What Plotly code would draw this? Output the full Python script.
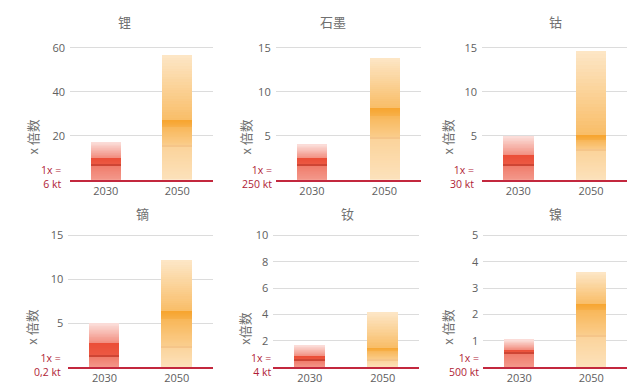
import plotly.graph_objects as go

# ---------------- data ----------------
materials = ["锂", "石墨", "钴", "镝", "钕", "镍"]
units = ["6 kt", "250 kt", "30 kt", "0,2 kt", "4 kt", "500 kt"]
y_titles = ["x 倍数", "x 倍数", "x 倍数", "x 倍数", "x倍数", "x 倍数"]
tick_values = [[20, 40, 60], [5, 10, 15], [5, 10, 15], [5, 10, 15],
               [2, 4, 6, 8, 10], [1, 2, 3, 4, 5]]
years = ["2030", "2050"]

max_2030 = [17.3, 4.05, 5.0, 5.0, 1.7, 1.05]
peak_2030 = [10.5, 2.55, 2.9, 2.85, 0.9, 0.7]
line_2030 = [7.0, 1.75, 1.75, 1.3, 0.55, 0.55]

max_2050 = [57.0, 13.9, 14.7, 12.2, 4.2, 3.63]
peak_2050 = [27.2, 8.25, 5.1, 6.4, 1.55, 2.43]
bandlow_2050 = [24.6, 7.4, 4.6, 5.6, 1.3, 2.2]
line_2050 = [15.5, 4.8, 3.4, 2.4, 0.6, 1.2]

# ---------------- layout geometry (pixels) ----------------
W, H = 640, 389
x_px = [(70, 213), (275.7, 420.7), (482, 627.3), (68.3, 213), (273.3, 419.3), (483.3, 627.3)]
rows = [dict(base=177.7, tick=44.3, top=40.0), dict(base=367.0, tick=233.7, top=229.0)]
title_px = [(124, 18), (333, 18), (555, 18), (142, 212), (347, 212), (555, 212)]
ytitle_px = [(33, 135), (246, 135), (448, 135), (32, 327), (245, 328), (448, 327)]
unit_px = [(63, 174.5), (274, 174.5), (476, 174.5), (63, 364.5), (273, 364.5), (481, 364.5)]

RED = (234, 72, 48)
RED_LINE = (200, 48, 30)
ORANGE = (246, 158, 32)
ORANGE_LINE = (236, 150, 40)


def blend(c, a):
    r = [round(255 * (1 - a) + ci * a) for ci in c]
    return f"rgb({r[0]},{r[1]},{r[2]})"


def segments(regions, k=24):
    """regions: list of (lo, hi, alpha_lo, alpha_hi)"""
    bases, heights, alphas = [], [], []
    for lo, hi, a0, a1 in regions:
        if hi <= lo:
            continue
        step = (hi - lo) / k
        for i in range(k):
            b = lo + i * step
            t = (i + 0.5) / k
            bases.append(b)
            heights.append(step * 1.04)
            alphas.append(a0 + (a1 - a0) * t)
    return bases, heights, alphas


fig = go.Figure()
annotations = []

for i, m in enumerate(materials):
    row = rows[i // 3]
    ax = "" if i == 0 else str(i + 1)
    xref, yref = "x" + ax, "y" + ax
    top_tick = tick_values[i][-1]
    rng_top = top_tick * (row["base"] - row["top"]) / (row["base"] - row["tick"])
    px_per_unit = (row["base"] - row["tick"]) / top_tick
    lh = 1.3 / px_per_unit

    # 2030 bar (red)
    reg30 = [(0, line_2030[i], 0.55, 0.72),
             (line_2030[i], peak_2030[i], 0.9, 0.97),
             (peak_2030[i], max_2030[i], 0.62, 0.18)]
    b, h, a = segments(reg30)
    fig.add_trace(go.Bar(x=[years[0]] * len(b), y=h, base=b, width=0.42,
                         marker=dict(color=[blend(RED, v) for v in a], line=dict(width=0)),
                         xaxis=xref, yaxis=yref, showlegend=False, hoverinfo="skip"))
    fig.add_trace(go.Bar(x=[years[0]], y=[lh], base=[line_2030[i] - lh / 2], width=0.42,
                         marker=dict(color=blend(RED_LINE, 0.9), line=dict(width=0)),
                         xaxis=xref, yaxis=yref, showlegend=False, hoverinfo="skip"))

    # 2050 bar (orange)
    reg50 = [(0, line_2050[i], 0.3, 0.45),
             (line_2050[i], bandlow_2050[i], 0.5, 0.75),
             (bandlow_2050[i], peak_2050[i], 0.82, 0.93),
             (peak_2050[i], max_2050[i], 0.68, 0.25)]
    b, h, a = segments(reg50)
    fig.add_trace(go.Bar(x=[years[1]] * len(b), y=h, base=b, width=0.42,
                         marker=dict(color=[blend(ORANGE, v) for v in a], line=dict(width=0)),
                         xaxis=xref, yaxis=yref, showlegend=False, hoverinfo="skip"))
    fig.add_trace(go.Bar(x=[years[1]], y=[lh], base=[line_2050[i] - lh / 2], width=0.42,
                         marker=dict(color=blend(ORANGE_LINE, 0.55), line=dict(width=0)),
                         xaxis=xref, yaxis=yref, showlegend=False, hoverinfo="skip"))

    x0, x1 = x_px[i]
    fig.update_layout(**{
        "xaxis" + ax: dict(domain=[x0 / W, x1 / W], type="category",
                           categoryorder="array", categoryarray=years,
                           showline=True, linecolor="#c3283e", linewidth=2,
                           showgrid=False, ticks="", anchor=yref,
                           tickfont=dict(family="Open Sans, sans-serif", size=11, color="#606060"),
                           fixedrange=True),
        "yaxis" + ax: dict(domain=[1 - row["base"] / H, 1 - row["top"] / H],
                           range=[0, rng_top], tickvals=tick_values[i],
                           showgrid=True, gridcolor="#dcdcdc", gridwidth=1,
                           zeroline=False, showline=False, anchor=xref,
                           ticklabelstandoff=4,
                           tickfont=dict(family="Open Sans, sans-serif", size=11, color="#606060"),
                           fixedrange=True),
    })

    tx, ty = title_px[i]
    annotations.append(dict(text=m, x=tx / W, y=1 - ty / H, xref="paper", yref="paper",
                            showarrow=False, xanchor="center", yanchor="middle",
                            font=dict(family="Noto Sans CJK SC", size=13, color="#707070")))
    yx, yy = ytitle_px[i]
    annotations.append(dict(text=y_titles[i], x=yx / W, y=1 - yy / H, xref="paper", yref="paper",
                            showarrow=False, xanchor="center", yanchor="middle", textangle=-90,
                            font=dict(family="Noto Sans CJK SC", size=13, color="#707070")))
    ux, uy = unit_px[i]
    annotations.append(dict(text="1x =<br>" + units[i], x=ux / W, y=1 - uy / H,
                            xref="paper", yref="paper", showarrow=False,
                            xanchor="right", yanchor="middle", align="right",
                            font=dict(family="Open Sans, sans-serif", size=10.5, color="#b01c36")))

fig.update_layout(width=W, height=H, margin=dict(l=0, r=0, t=0, b=0),
                  paper_bgcolor="white", plot_bgcolor="white",
                  barmode="overlay", bargap=0, annotations=annotations,
                  showlegend=False)

fig.write_html("out.html", config={"displayModeBar": False},
               post_script="document.body.style.margin='0px';document.body.style.overflow='hidden';")
